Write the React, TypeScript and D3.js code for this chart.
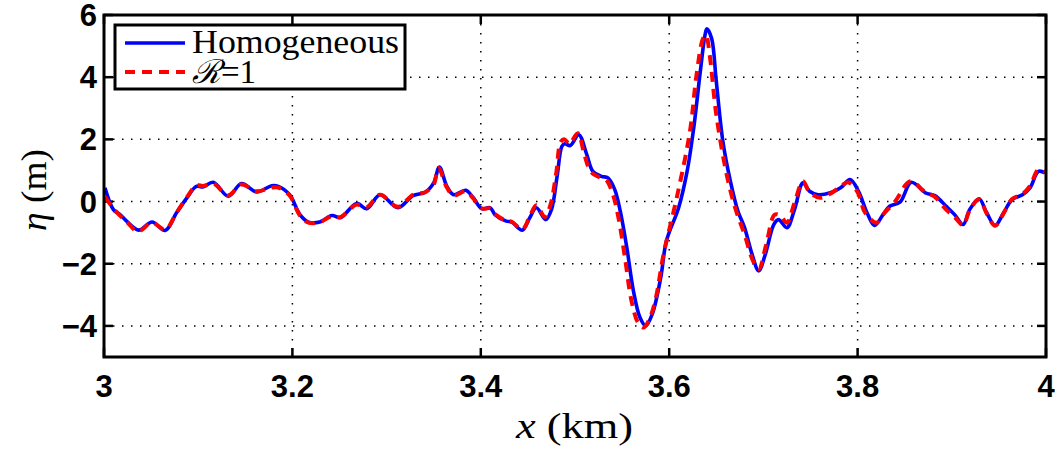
import React from "react";
import * as d3 from "d3";

const xTicks = [3, 3.2, 3.4, 3.6, 3.8, 4];
const yTicks = [-4, -2, 0, 2, 4, 6];

const homoX = [3.001,3.010,3.017,3.024,3.037,3.051,3.065,3.077,3.088,3.098,3.105,3.116,3.132,3.146,3.162,3.178,3.185,3.197,3.208,3.217,3.229,3.242,3.251,3.268,3.279,3.293,3.312,3.328,3.341,3.350,3.356,3.364,3.371,3.384,3.392,3.401,3.410,3.415,3.427,3.433,3.444,3.452,3.459,3.469,3.475,3.481,3.486,3.489,3.495,3.504,3.512,3.519,3.528,3.535,3.542,3.548,3.555,3.562,3.569,3.575,3.582,3.591,3.597,3.610,3.619,3.626,3.633,3.638,3.640,3.645,3.650,3.657,3.665,3.673,3.680,3.688,3.695,3.702,3.711,3.716,3.725,3.733,3.742,3.749,3.758,3.771,3.782,3.792,3.801,3.810,3.818,3.827,3.834,3.845,3.857,3.872,3.882,3.894,3.903,3.912,3.919,3.929,3.937,3.946,3.955,3.964,3.975,3.983,3.992,3.999];
const homoY = [0.44,-0.26,-0.42,-0.63,-0.92,-0.66,-0.93,-0.36,0.12,0.49,0.47,0.62,0.17,0.58,0.31,0.51,0.49,0.22,-0.42,-0.66,-0.66,-0.45,-0.52,-0.06,-0.23,0.22,-0.20,0.19,0.30,0.60,1.11,0.49,0.22,0.36,0.12,-0.23,-0.20,-0.42,-0.63,-0.66,-0.92,-0.52,-0.20,-0.58,-0.26,0.81,1.77,1.86,1.80,2.15,1.56,0.97,0.81,0.76,0.40,-0.30,-1.48,-2.87,-3.73,-4.00,-3.62,-2.45,-1.27,-0.20,0.97,2.36,4.18,5.35,5.56,5.25,3.86,1.93,0.65,-0.31,-0.84,-1.70,-2.23,-1.70,-0.74,-0.58,-0.84,-0.26,0.60,0.33,0.22,0.28,0.44,0.71,0.33,-0.36,-0.77,-0.42,-0.15,-0.02,0.62,0.28,0.19,-0.15,-0.42,-0.74,-0.26,0.09,-0.36,-0.77,-0.36,0.06,0.22,0.44,0.97,0.92];

const r1X = [3.001,3.010,3.017,3.024,3.036,3.051,3.065,3.077,3.088,3.098,3.105,3.116,3.132,3.146,3.162,3.178,3.185,3.197,3.208,3.217,3.229,3.242,3.251,3.268,3.279,3.293,3.312,3.328,3.341,3.350,3.355,3.364,3.371,3.384,3.392,3.401,3.410,3.415,3.427,3.433,3.444,3.452,3.459,3.468,3.474,3.480,3.485,3.489,3.494,3.503,3.510,3.517,3.526,3.533,3.540,3.546,3.553,3.560,3.567,3.573,3.580,3.586,3.594,3.608,3.622,3.629,3.636,3.639,3.643,3.650,3.661,3.670,3.680,3.689,3.695,3.703,3.712,3.718,3.725,3.733,3.742,3.749,3.760,3.771,3.782,3.790,3.800,3.808,3.820,3.827,3.840,3.856,3.872,3.882,3.894,3.903,3.912,3.919,3.929,3.937,3.946,3.955,3.964,3.975,3.983,3.992,3.999];
const r1Y = [0.15,-0.22,-0.45,-0.65,-0.96,-0.68,-0.90,-0.36,0.14,0.52,0.50,0.58,0.20,0.55,0.33,0.45,0.45,0.20,-0.45,-0.68,-0.66,-0.47,-0.50,-0.10,-0.18,0.22,-0.17,0.22,0.30,0.55,1.08,0.45,0.19,0.33,0.10,-0.22,-0.22,-0.40,-0.62,-0.65,-0.90,-0.48,-0.12,-0.50,-0.10,0.90,1.93,2.00,1.85,2.20,1.50,0.95,0.78,0.70,0.25,-0.50,-1.80,-3.20,-3.90,-4.05,-3.70,-3.08,-1.70,0.12,2.25,4.07,5.25,5.35,4.71,2.79,0.87,-0.20,-1.06,-1.91,-2.18,-1.38,-0.42,-0.45,-0.68,-0.04,0.65,0.30,0.12,0.25,0.49,0.62,0.30,-0.36,-0.68,-0.42,0.01,0.65,0.30,0.15,-0.26,-0.50,-0.76,-0.28,0.07,-0.38,-0.78,-0.38,0.08,0.24,0.50,1.03,0.95];

const L = 104, R = 1046, T = 15, B = 357;

export default function App() {
  const x = d3.scaleLinear().domain([3, 4]).range([L, R]);
  const y = d3.scaleLinear().domain([-5, 6]).range([B, T]);
  const line = d3
    .line<[number, number]>()
    .x((d) => x(d[0]))
    .y((d) => y(d[1]))
    .curve(d3.curveCatmullRom.alpha(0.5));
  const homo = line(homoX.map((v, i) => [v, homoY[i]]) as [number, number][]) || "";
  const r1 = line(r1X.map((v, i) => [v, r1Y[i]]) as [number, number][]) || "";

  const tickFont = "'Liberation Sans', Arial, sans-serif";
  const serif = "'Liberation Serif', 'Times New Roman', serif";

  return (
    <svg
      width={1055}
      height={449}
      style={{ position: "absolute", left: 0, top: 0, background: "#fff" }}
    >
      <rect x={0} y={0} width={1055} height={449} fill="#fff" />
      <defs>
        <clipPath id="plotclip">
          <rect x={L} y={T} width={R - L} height={B - T} />
        </clipPath>
      </defs>
      {/* grid */}
      {xTicks.slice(1, -1).map((t) => (
        <line key={"gx" + t} x1={x(t)} x2={x(t)} y1={T} y2={B} stroke="#000" strokeWidth={1.5} strokeDasharray="1.5 7.5" />
      ))}
      {yTicks.filter((t) => t > -5 && t < 6).map((t) => (
        <line key={"gy" + t} x1={L} x2={R} y1={y(t)} y2={y(t)} stroke="#000" strokeWidth={1.5} strokeDasharray="1.5 7.5" />
      ))}
      {/* ticks */}
      {xTicks.map((t) => (
        <g key={"tx" + t}>
          <line x1={x(t)} x2={x(t)} y1={B} y2={B - 9} stroke="#000" strokeWidth={2.5} />
          <line x1={x(t)} x2={x(t)} y1={T} y2={T + 9} stroke="#000" strokeWidth={2.5} />
          <text x={x(t)} y={397} textAnchor="middle" fontFamily={tickFont} fontWeight="bold" fontSize={31}>
            {String(t)}
          </text>
        </g>
      ))}
      {yTicks.map((t) => (
        <g key={"ty" + t}>
          <line x1={L} x2={L + 9} y1={y(t)} y2={y(t)} stroke="#000" strokeWidth={2.5} />
          <line x1={R} x2={R - 9} y1={y(t)} y2={y(t)} stroke="#000" strokeWidth={2.5} />
          <text x={97} y={y(t) + 11} textAnchor="end" fontFamily={tickFont} fontWeight="bold" fontSize={31}>
            {t < 0 ? "\u2212" + Math.abs(t) : String(t)}
          </text>
        </g>
      ))}
      {/* curves */}
      <g clipPath="url(#plotclip)">
        <path d={homo} fill="none" stroke="#0000ff" strokeWidth={3.6} strokeLinejoin="round" />
        <path d={r1} fill="none" stroke="#ff0000" strokeWidth={4} strokeDasharray="10 7" />
      </g>
      {/* frame */}
      <rect x={L} y={T} width={R - L} height={B - T} fill="none" stroke="#000" strokeWidth={3} />
      {/* legend */}
      <rect x={115} y={25} width={290} height={64} fill="#fff" stroke="#000" strokeWidth={3} />
      <line x1={125} x2={185} y1={43} y2={43} stroke="#0000ff" strokeWidth={3.6} />
      <line x1={125} x2={185} y1={72} y2={72} stroke="#ff0000" strokeWidth={4} strokeDasharray="10 7" />
      <text x={192} y={53} fontFamily={serif} fontSize={33} textLength={207} lengthAdjust="spacingAndGlyphs">
        Homogeneous
      </text>
      <text x={192} y={83} fontFamily={serif} fontSize={33}>
        <tspan fontFamily="'DejaVu Serif', serif" fontStyle="italic">ℛ</tspan>=1
      </text>
      {/* axis labels */}
      <text x={516} y={438} fontFamily={serif} fontSize={35} textLength={117} lengthAdjust="spacingAndGlyphs">
        <tspan fontStyle="italic">x</tspan> (km)
      </text>
      <text
        transform="translate(46,231) rotate(-90)"
        fontFamily={serif}
        fontSize={35}
        textLength={82}
        lengthAdjust="spacingAndGlyphs"
      >
        <tspan fontStyle="italic">η</tspan> (m)
      </text>
    </svg>
  );
}
